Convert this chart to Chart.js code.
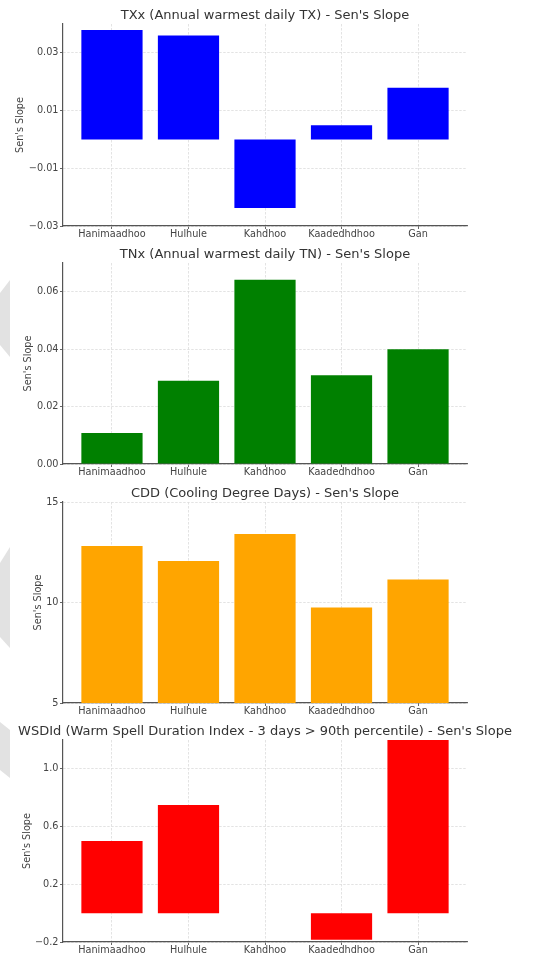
<!DOCTYPE html>
<html>
<head>
<meta charset="utf-8">
<title>Sen's Slope</title>
<script src="https://cdn.jsdelivr.net/npm/chart.js@4.4.1/dist/chart.umd.min.js"></script>
<style>
  html, body { margin: 0; padding: 0; background: #fff; }
  body { width: 540px; height: 955px; position: relative; overflow: hidden; }
  canvas { position: absolute; left: 0; }
  .fold { position: absolute; left: 0; top: 0; }
</style>
</head>
<body>
<!-- grey page marks on the left edge -->
<svg class="fold" width="540" height="955">
  <polygon points="0,293 10,280 10,357 0,345" fill="#e2e2e2"/>
  <polygon points="0,563 10,547 10,648 0,637" fill="#e2e2e2"/>
  <polygon points="0,722 10,730 10,778 0,770" fill="#e2e2e2"/>
</svg>
<canvas id="txxChart" width="540" height="246" style="top:0px"></canvas>
<canvas id="tnxChart" width="540" height="245" style="top:239px"></canvas>
<canvas id="cddChart" width="540" height="245" style="top:478px"></canvas>
<canvas id="wsdiChart" width="540" height="246" style="top:716px"></canvas>
<script>
// stations and Sen's slope per index
const stations = ['Hanimaadhoo', 'Hulhule', 'Kahdhoo', 'Kaadedhdhoo', 'Gan'];
const txxSlope = [0.0379, 0.0360, -0.0238, 0.0049, 0.0179];
const tnxSlope = [0.0108, 0.0290, 0.0642, 0.0309, 0.0400];
const cddSlope = [12.81, 12.06, 13.41, 9.75, 11.15];
const wsdiSlope = [0.50, 0.75, 0.0, -0.185, 1.33];

// y tick labels
const txxTicks = [-0.03, -0.01, 0.01, 0.03];
const tnxTicks = [0, 0.02, 0.04, 0.06];
const cddTicks = [5, 10, 15];
const wsdiTicks = [-0.2, 0.2, 0.6, 1.0];

const FONT = "'DejaVu Sans', sans-serif";

const fmt = (v, d) => (v < 0 ? '\u2212' : '') + Math.abs(v).toFixed(d);

const gridOpts = { color: '#dcdcdc', lineWidth: 0.8, tickColor: '#666', tickLength: 3, tickWidth: 1, offset: false };
const borderOpts = { color: '#555', width: 1.2, dash: [2.5, 1.5] };

const makeChart = (p) => {
    const ctx = document.getElementById(p.id).getContext('2d');
    return new Chart(ctx, {
        type: 'bar',
        data: {
            datasets: [{
                data: p.values.map((v, i) => ({ x: i, y: v })),
                backgroundColor: p.color,
                borderWidth: 0,
                categoryPercentage: 1,
                barPercentage: 0.8
            }]
        },
        options: {
            responsive: false,
            animation: false,
            devicePixelRatio: 1,
            layout: { padding: { left: 0, right: 10, top: 0, bottom: 0 } },
            plugins: {
                legend: { display: false },
                tooltip: { enabled: false },
                title: {
                    display: true,
                    text: p.title,
                    color: '#333',
                    font: { family: FONT, size: 13, weight: 'normal' },
                    padding: { top: 7.5, bottom: 0.9 }
                }
            },
            scales: {
                x: {
                    type: 'linear',
                    offset: false,
                    min: -0.64,
                    max: 4.64,
                    afterBuildTicks: axis => { axis.ticks = stations.map((s, i) => ({ value: i })); },
                    afterFit: axis => { axis.height = 20; },
                    ticks: {
                        callback: v => stations[v],
                        color: '#444',
                        font: { family: FONT, size: 9.7 },
                        padding: 0,
                        maxRotation: 0,
                        autoSkip: false
                    },
                    grid: gridOpts,
                    border: borderOpts
                },
                y: {
                    min: p.min,
                    max: p.max,
                    afterBuildTicks: axis => { axis.ticks = p.ticks.map(v => ({ value: v })); },
                    afterFit: axis => { axis.width = 63; },
                    ticks: {
                        callback: v => fmt(v, p.digits),
                        color: '#444',
                        font: { family: FONT, size: 9.7 },
                        padding: 1.5
                    },
                    grid: gridOpts,
                    border: borderOpts,
                    title: {
                        display: true,
                        text: "Sen's Slope",
                        color: '#444',
                        font: { family: FONT, size: 9.7 },
                        padding: { top: p.labelPad, bottom: 0 }
                    }
                },
                // empty right box so the plot ends where the reference does
                yPad: {
                    type: 'linear',
                    axis: 'y',
                    position: 'right',
                    afterFit: axis => { axis.width = 63; },
                    grid: { display: false },
                    border: { display: false },
                    ticks: { display: false }
                }
            }
        }
    });
};

document.addEventListener('DOMContentLoaded', () => {
    makeChart({ id: 'txxChart', title: "TXx (Annual warmest daily TX) - Sen's Slope", values: txxSlope, color: '#0000ff', ticks: txxTicks, min: -0.03, max: 0.04, digits: 2, labelPad: 15 });
    makeChart({ id: 'tnxChart', title: "TNx (Annual warmest daily TN) - Sen's Slope", values: tnxSlope, color: '#008000', ticks: tnxTicks, min: 0, max: 0.07, digits: 2, labelPad: 23 });
    makeChart({ id: 'cddChart', title: "CDD (Cooling Degree Days) - Sen's Slope", values: cddSlope, color: '#ffa500', ticks: cddTicks, min: 5, max: 15, digits: 0, labelPad: 33 });
    makeChart({ id: 'wsdiChart', title: "WSDId (Warm Spell Duration Index - 3 days > 90th percentile) - Sen's Slope", values: wsdiSlope, color: '#ff0000', ticks: wsdiTicks, min: -0.2, max: 1.2, digits: 1, labelPad: 21.5 });
});
</script>
</body>
</html>
